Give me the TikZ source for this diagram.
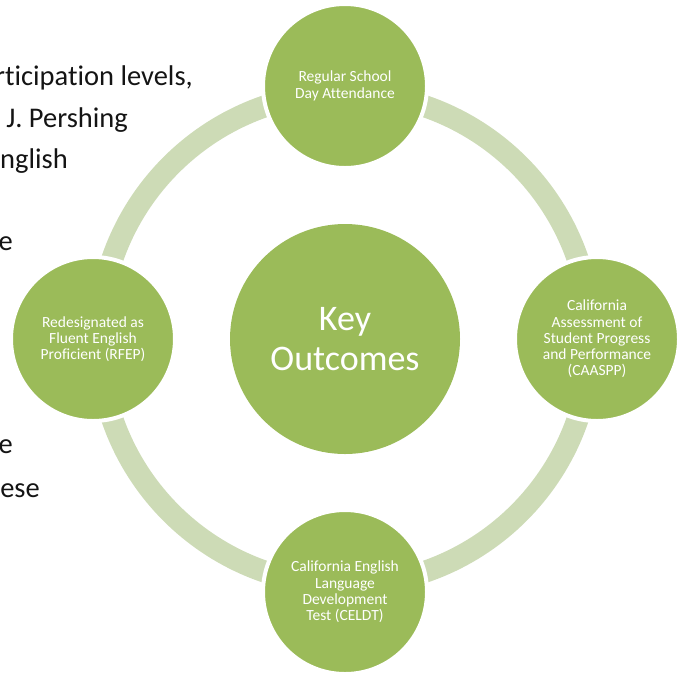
\documentclass[tikz,border=0pt]{standalone}
\usepackage{fontspec}
\setmainfont{Carlito}[Ligatures=NoCommon]
\definecolor{leaf}{RGB}{155,187,89}
\definecolor{ringc}{RGB}{205,219,182}
\definecolor{bodytext}{RGB}{20,20,20}
\tikzset{
  sat/.style={circle, fill=leaf, draw=white, line width=4pt, minimum size=164pt,
    inner sep=0pt, align=center, text=white, font=\fontsize{15.5}{16.3}\selectfont},
  hub/.style={circle, fill=leaf, minimum size=230pt, inner sep=0pt, align=center,
    text=white, font=\fontsize{36}{40}\selectfont},
  ringline/.style={draw=ringc, line width=22pt},
  side/.style={anchor=base east, inner sep=0pt, text=bodytext, font=\fontsize{28.5}{34}\selectfont}
}
\begin{document}
\begin{tikzpicture}[x=1pt,y=-1pt]
\useasboundingbox (0,0) rectangle (684,673);
\clip (0,0) rectangle (684,673);
% left body text (cut by slide edge)
\node[side] (t1) at (193,85) {rticipation levels,};
\node[side] (t2) at (128,127) {J. Pershing};
\node[side] (t3) at (68,168) {nglish};
\node[side] (t4) at (13,250) {e};
\node[side] (t5) at (13,453) {e};
\node[side] (t6) at (40,497) {ese};
% hub
\node[hub] (key) at (345,339) {Key\\Outcomes};
% ring
\draw[ringline] (key.center) circle[radius=246];
% satellites
\node[sat] (top) at (345,86) {Regular School\\Day Attendance};
\node[sat] (right) at (597,339) {California\\Assessment of\\Student Progress\\and Performance\\(CAASPP)};
\node[sat] (bottom) at (345,592) {California English\\Language\\Development\\Test (CELDT)};
\node[sat] (left) at (93,339) {Redesignated as\\Fluent English\\Proficient (RFEP)};
\end{tikzpicture}
\end{document}
